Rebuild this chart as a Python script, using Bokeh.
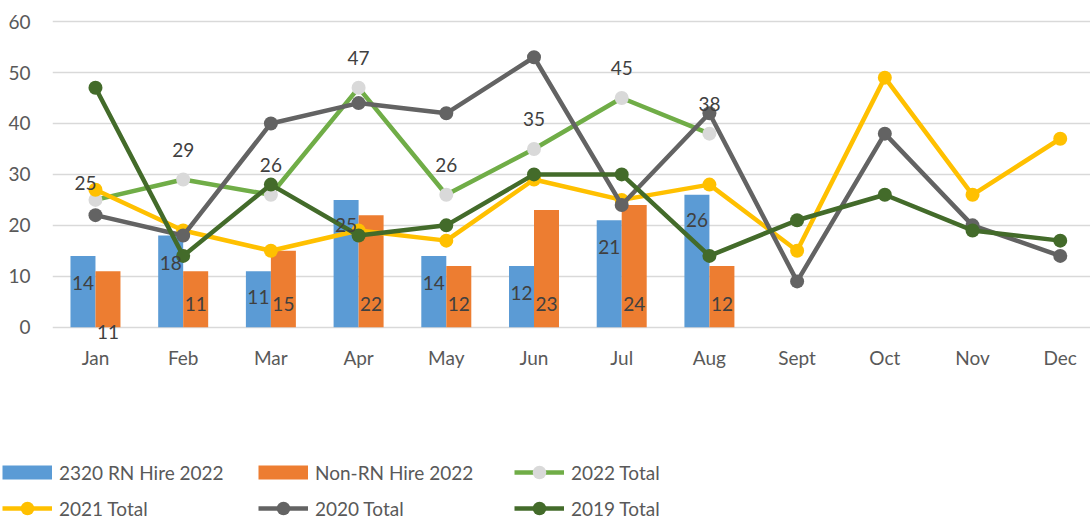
from bokeh.plotting import figure
from bokeh.models import Range1d, FixedTicker, Legend, LegendItem, ColumnDataSource
from bokeh.layouts import column
from bokeh.core.properties import value
from bokeh.embed import file_html
from bokeh.resources import INLINE

months = ["Jan", "Feb", "Mar", "Apr", "May", "Jun", "Jul", "Aug", "Sept", "Oct", "Nov", "Dec"]
rn_hire_2022 = [14, 18, 11, 25, 14, 12, 21, 26]
non_rn_hire_2022 = [11, 11, 15, 22, 12, 23, 24, 12]
total_2022 = [25, 29, 26, 47, 26, 35, 45, 38]
total_2021 = [27, 19, 15, 19, 17, 29, 25, 28, 15, 49, 26, 37]
total_2020 = [22, 18, 40, 44, 42, 53, 24, 42, 9, 38, 20, 14]
total_2019 = [47, 14, 28, 18, 20, 30, 30, 14, 21, 26, 19, 17]
y_ticks = [0, 10, 20, 30, 40, 50, 60]

# label placement (layout only, in axis units / pixels)
rn_label_y = [8.6, 12.7, 5.9, 20.0, 8.6, 6.7, 15.7, 21.0]
non_rn_label_y = [-0.9, 4.6, 4.6, 4.6, 4.6, 4.6, 4.6, 4.6]
t22_label_dx = [-10, 0, 0, 0, 0, 0, 0, 0]
t22_label_dy = [-17, -30, -30, -30, -30, -30, -30, -30]

FONT = "Lato"
FS = "19px"
AX_COL = "#595959"
LBL_COL = "#404040"
BLUE = "#5B9BD5"
ORANGE = "#ED7D31"
GREEN = "#70AD47"
MARK22 = "#D9D9D9"
YELLOW = "#FFC000"
GRAY = "#636363"
DKGREEN = "#436B2A"

BW = 0.285
LW = 4.5
MS = 14
idx = list(range(len(months)))
idx8 = list(range(len(rn_hire_2022)))

p = figure(width=1090, height=400, output_backend="svg", toolbar_location=None,
           x_range=Range1d(-0.49, 11.345), y_range=Range1d(-3, 61),
           min_border_left=52, min_border_right=0, min_border_top=16, min_border_bottom=58)
p.outline_line_color = None
p.frame_align = False

# axes
p.yaxis.ticker = FixedTicker(ticks=y_ticks)
p.xaxis.ticker = FixedTicker(ticks=idx)
p.xaxis.major_label_overrides = {i: m for i, m in enumerate(months)}
for ax in (p.xaxis[0], p.yaxis[0]):
    ax.axis_line_color = None
    ax.major_tick_line_color = None
    ax.minor_tick_line_color = None
    ax.major_tick_out = 0
    ax.major_tick_in = 0
    ax.minor_tick_out = 0
    ax.minor_tick_in = 0
    ax.major_label_text_font = FONT
    ax.major_label_text_font_size = FS
    ax.major_label_text_color = AX_COL
p.yaxis.major_label_standoff = 22
p.xaxis.major_label_standoff = 3
p.xgrid.grid_line_color = None
p.ygrid.grid_line_color = "#D9D9D9"
p.ygrid.grid_line_width = 1.5
p.ygrid.ticker = FixedTicker(ticks=y_ticks)

# bars
src_b = ColumnDataSource(dict(x=[i - BW / 2 for i in idx8], top=rn_hire_2022, ly=rn_label_y,
                              t=[str(v) for v in rn_hire_2022]))
src_o = ColumnDataSource(dict(x=[i + BW / 2 for i in idx8], top=non_rn_hire_2022, ly=non_rn_label_y,
                              t=[str(v) for v in non_rn_hire_2022]))
p.vbar(x="x", top="top", bottom=0, width=BW, source=src_b, fill_color=BLUE, line_color=None)
p.vbar(x="x", top="top", bottom=0, width=BW, source=src_o, fill_color=ORANGE, line_color=None)

# lines
p.line(idx8, total_2022, line_color=GREEN, line_width=LW)
p.scatter(idx8, total_2022, size=MS, fill_color=MARK22, line_color=None)
p.line(idx, total_2021, line_color=YELLOW, line_width=LW)
p.scatter(idx, total_2021, size=MS, fill_color=YELLOW, line_color=None)
p.line(idx, total_2020, line_color=GRAY, line_width=LW)
p.scatter(idx, total_2020, size=MS, fill_color=GRAY, line_color=None)
p.line(idx, total_2019, line_color=DKGREEN, line_width=LW)
p.scatter(idx, total_2019, size=MS, fill_color=DKGREEN, line_color=None)

# data labels
for src in (src_b, src_o):
    p.text(x="x", y="ly", text="t", source=src, text_font=value(FONT), text_font_size=FS,
           text_color=LBL_COL, text_align="center", text_baseline="middle")
src_22 = ColumnDataSource(dict(x=idx8, y=total_2022, t=[str(v) for v in total_2022],
                               dx=t22_label_dx, dy=t22_label_dy))
p.text(x="x", y="y", text="t", x_offset="dx", y_offset="dy", source=src_22, text_font=value(FONT),
       text_font_size=FS, text_color=LBL_COL, text_align="center", text_baseline="middle")

# legend panel (separate figure below the chart; keys use one off-screen point)
lg = figure(width=1090, height=121, output_backend="svg", toolbar_location=None,
            x_range=Range1d(0, 1), y_range=Range1d(0, 1), x_axis_type=None, y_axis_type=None,
            min_border=0)
lg.outline_line_color = None
lg.grid.visible = False
lg.frame_align = False

OFF = dict(x=[-10], y=[-10])
k_b = lg.line(line_color=BLUE, line_width=14, line_cap="butt", **OFF)
k_o = lg.line(line_color=ORANGE, line_width=14, line_cap="butt", **OFF)
keys = []
for lc, mc in ((GREEN, MARK22), (YELLOW, YELLOW), (GRAY, GRAY), (DKGREEN, DKGREEN)):
    keys.append([lg.line(line_color=lc, line_width=LW, **OFF),
                 lg.scatter(fill_color=mc, line_color=None, **OFF)])

legend = Legend(items=[
    LegendItem(label="2320 RN Hire 2022", renderers=[k_b]),
    LegendItem(label="Non-RN Hire 2022", renderers=[k_o]),
    LegendItem(label="2022 Total", renderers=keys[0]),
    LegendItem(label="2021 Total", renderers=keys[1]),
    LegendItem(label="2020 Total", renderers=keys[2]),
    LegendItem(label="2019 Total", renderers=keys[3]),
], location=(2, -4), orientation="horizontal", ncols=3)
legend.label_text_font = FONT
legend.label_text_font_size = FS
legend.label_text_color = AX_COL
legend.glyph_width = 50
legend.glyph_height = 34
legend.label_standoff = 7
legend.label_width = 197
legend.label_height = 20
legend.spacing = 2
legend.padding = 0
legend.margin = 0
legend.border_line_color = None
legend.background_fill_alpha = 0
lg.add_layout(legend, "center")

open("out.html", "w").write(file_html(column(p, lg, spacing=0), INLINE))
